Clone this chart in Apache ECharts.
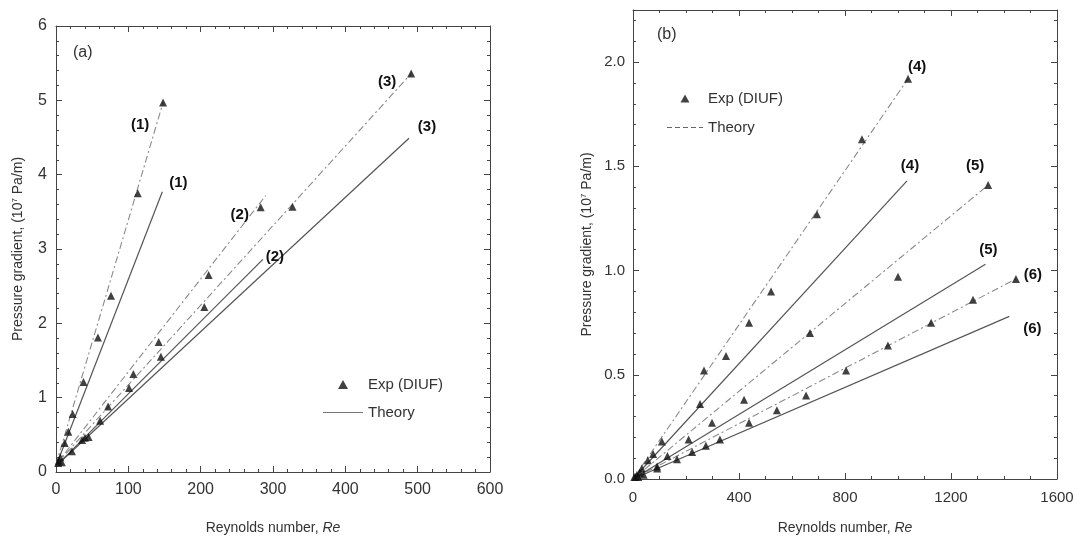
<!DOCTYPE html>
<html><head><meta charset="utf-8">
<script src="https://cdn.jsdelivr.net/npm/echarts@6/dist/echarts.min.js"></script>
<style>html,body{margin:0;padding:0;background:#fff}#c{width:1077px;height:540px}</style>
</head><body><div id="c"></div>
<script>
// ---------- Panel (a) data: [Re, pressure gradient (10^7 Pa/m)] ----------
const exp1 = [[3,0.12],[6,0.2],[12,0.39],[17,0.54],[23,0.78],[38,1.21],[58,1.81],[76,2.37],[113,3.75],[148,4.97]];
const exp2 = [[4,0.15],[22,0.28],[40,0.46],[72,0.88],[107,1.32],[142,1.75],[211,2.65],[283,3.56]];
const exp3 = [[8,0.13],[36,0.43],[45,0.47],[61,0.69],[101,1.13],[145,1.55],[205,2.22],[327,3.57],[491,5.36]];
const fit1 = [[0,0.1],[148,4.97]];
const fit2 = [[0,0.1],[290,3.72]];
const fit3 = [[0,0.1],[491,5.36]];
const th1 = [[0,0.08],[147,3.77]];
const th2 = [[0,0.08],[286,2.86]];
const th3 = [[0,0.08],[488,4.49]];
const leftTags = ['(1)','(2)','(3)'];

// ---------- Panel (b) data ----------
const exp4 = [[5,0.01],[15,0.02],[33,0.05],[56,0.09],[76,0.12],[109,0.18],[253,0.36],[268,0.52],[351,0.59],[438,0.75],[521,0.90],[694,1.27],[864,1.63],[1038,1.92]];
const exp5 = [[10,0.01],[25,0.03],[91,0.06],[130,0.11],[210,0.19],[298,0.27],[419,0.38],[668,0.70],[1000,0.97],[1340,1.41]];
const exp6 = [[20,0.01],[40,0.02],[91,0.05],[166,0.095],[223,0.13],[275,0.16],[328,0.19],[438,0.27],[543,0.33],[653,0.40],[804,0.52],[962,0.64],[1125,0.75],[1283,0.86],[1445,0.96]];
const fit4 = [[0,0],[1038,1.92]];
const fit5 = [[0,0],[1340,1.41]];
const fit6 = [[0,0],[1445,0.96]];
const th4 = [[0,0],[1034,1.43]];
const th5 = [[0,0],[1330,1.03]];
const th6 = [[0,0],[1420,0.78]];
const rightTags = ['(4)','(5)','(6)'];

const EXP_NAME = 'Exp (DIUF)';
const TH_NAME = 'Theory';
const panelTags = ['(a)','(b)'];

// ---------- styling & options ----------
const FONT = '"Liberation Sans", Arial, sans-serif';
const AX = '#444';
const chart = echarts.init(document.getElementById('c'));

function xAx(grid, max, interval, split, pos, labelSize, margin, gap) {
  const top = pos === 'top';
  return {
    type:'value', gridIndex:grid, min:0, max:max, interval:interval, position:pos,
    axisLine:{show:true, onZero:false, lineStyle:{color:AX, width:1}},
    axisTick:{show:true, inside:true, length:6, lineStyle:{color:AX}},
    minorTick:{show:true, splitNumber:split, length:3, lineStyle:{color:AX}},
    splitLine:{show:false}, minorSplitLine:{show:false},
    axisLabel:{show:!top, fontFamily:FONT, fontSize:labelSize, color:'#333', margin:margin, formatter:v => String(v)},
    name: top ? '' : 'Reynolds number, {i|Re}', nameLocation:'middle', nameGap:gap,
    nameTextStyle:{fontFamily:FONT, fontSize:14, color:'#333', rich:{i:{fontFamily:FONT, fontSize:14, fontStyle:'italic', color:'#333'}}}
  };
}
function yAx(grid, max, interval, split, pos, labelSize, margin, gap, fmt) {
  const right = pos === 'right';
  return {
    type:'value', gridIndex:grid, min:0, max:max, interval:interval, position:pos,
    axisLine:{show:true, onZero:false, lineStyle:{color:AX, width:1}},
    axisTick:{show:true, inside:true, length:6, lineStyle:{color:AX}},
    minorTick:{show:true, splitNumber:split, length:3, lineStyle:{color:AX}},
    splitLine:{show:false}, minorSplitLine:{show:false},
    axisLabel:{show:!right, fontFamily:FONT, fontSize:labelSize, color:'#333', margin:margin, formatter:fmt, showMaxLabel: max % interval === 0},
    name: right ? '' : 'Pressure gradient, (10{s|7} Pa/m)', nameLocation:'middle', nameGap:gap, nameRotate:90,
    nameTextStyle:{fontFamily:FONT, fontSize:14, color:'#333', rich:{s:{fontFamily:FONT, fontSize:8, color:'#333', padding:[0,0,7,0]}}}
  };
}

const series = [];
function addPanel(xi, exps, fits, ths, tags, fitOffsets, thOffsets) {
  exps.forEach(d => series.push({
    name:EXP_NAME, type:'scatter', xAxisIndex:xi, yAxisIndex:xi, data:d,
    symbol:'triangle', symbolSize:8, itemStyle:{color:'#111'}, z:5
  }));
  fits.forEach((d,k) => series.push({
    name:'fit', type:'line', xAxisIndex:xi, yAxisIndex:xi, data:d, symbol:'none',
    lineStyle:{color:'#8a8a8a', width:1.1, type:[7,3,2,3]},
    endLabel:{show:true, formatter:tags[k], fontFamily:FONT, fontWeight:'bold', fontSize:15, color:'#111',
      align:'center', verticalAlign:'middle', distance:0, offset:fitOffsets[k]}
  }));
  ths.forEach((d,k) => series.push({
    name:TH_NAME, type:'line', xAxisIndex:xi, yAxisIndex:xi, data:d, symbol:'none',
    itemStyle:{color:'#555'},
    lineStyle:{color:'#555', width:1.2},
    endLabel:{show:true, formatter:tags[k], fontFamily:FONT, fontWeight:'bold', fontSize:15, color:'#111',
      align:'center', verticalAlign:'middle', distance:0, offset:thOffsets[k]}
  }));
}
addPanel(0, [exp1,exp2,exp3], [fit1,fit2,fit3], [th1,th2,th3], leftTags,
  [[-23,22],[-26,19],[-24,8]], [[16,-9],[12,-3],[18,-11]]);
addPanel(2, [exp4,exp5,exp6], [fit4,fit5,fit6], [th4,th5,th6], rightTags,
  [[9,-12],[-13,-19],[17,-4]], [[3,-15],[3,-14],[23,12]]);

const TRI = 'path://M5,0L10,9L0,9Z';
const SOLID = 'path://M0,0H40V1.2H0Z';
const DASHED = 'path://M0,0h5v1.2h-5z M8,0h5v1.2h-5z M16,0h5v1.2h-5z M24,0h5v1.2h-5z M32,0h4v1.2h-4z';

const option = {
  animation:false,
  backgroundColor:'#fff',
  title:[
    {text:panelTags[0], left:68, top:40, textStyle:{fontFamily:FONT, fontSize:16, fontWeight:'normal', color:'#333'}},
    {text:panelTags[1], left:652, top:22, textStyle:{fontFamily:FONT, fontSize:16, fontWeight:'normal', color:'#333'}}
  ],
  legend:[
    {left:318, top:372, orient:'vertical', itemWidth:40, itemHeight:9, itemGap:13, symbolKeepAspect:true,
      data:[{name:EXP_NAME, icon:TRI, itemStyle:{color:'#111'}}, {name:TH_NAME, icon:SOLID, itemStyle:{color:'#777'}}],
      textStyle:{fontFamily:FONT, fontSize:15, color:'#333'}},
    {left:662, top:86, orient:'vertical', itemWidth:36, itemHeight:8, itemGap:14, symbolKeepAspect:true,
      data:[{name:EXP_NAME, icon:TRI, itemStyle:{color:'#111'}}, {name:TH_NAME, icon:DASHED, itemStyle:{color:'#666'}}],
      textStyle:{fontFamily:FONT, fontSize:15, color:'#333'}}
  ],
  grid:[
    {left:56, top:26, width:434, height:446},
    {left:633, top:10, width:424, height:470}
  ],
  xAxis:[
    xAx(0, 600, 100, 5, 'bottom', 16, 10, 49),
    xAx(0, 600, 100, 5, 'top', 16, 10, 49),
    xAx(1, 1600, 400, 4, 'bottom', 15, 11, 42),
    xAx(1, 1600, 400, 4, 'top', 15, 11, 42)
  ],
  yAxis:[
    yAx(0, 6, 1, 5, 'left', 16, 9, 30, v => String(v)),
    yAx(0, 6, 1, 5, 'right', 16, 9, 30, v => String(v)),
    yAx(1, 2.25, 0.5, 5, 'left', 15, 8, 38, v => v.toFixed(1)),
    yAx(1, 2.25, 0.5, 5, 'right', 15, 8, 38, v => v.toFixed(1))
  ],
  series:series
};
chart.setOption(option);
</script>
</body></html>
